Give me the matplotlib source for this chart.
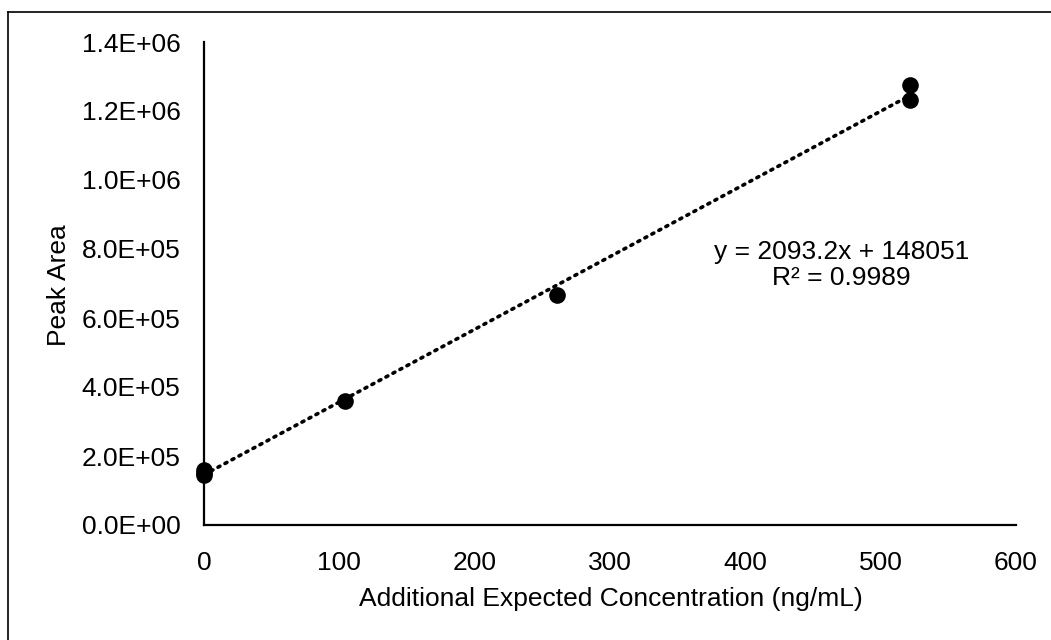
import numpy as np
import matplotlib
matplotlib.use("Agg")
import matplotlib.pyplot as plt
from matplotlib.lines import Line2D

plt.rcParams['font.family'] = ['Liberation Sans', 'DejaVu Sans']

# data
conc = [0, 0, 0, 104.4, 261, 522, 522]
area = [160000, 152000, 145000, 358000, 668000, 1232000, 1275000]

xticks = [0, 100, 200, 300, 400, 500, 600]
yticks = [0, 2e5, 4e5, 6e5, 8e5, 1.0e6, 1.2e6, 1.4e6]
eq_text = "y = 2093.2x + 148051\nR² = 0.9989"

fig = plt.figure(figsize=(10.51, 6.4), dpi=100)
ax = fig.add_axes([204/1051, 115/640, 812/1051, 483/640])

ax.scatter(conc, area, s=120, color='black', zorder=3, clip_on=False)

# trend line
k, b = np.polyfit(conc, area, 1)
xl = np.array([0, max(conc)])
ax.plot(xl, k*xl + b, linestyle=(0, (0.6, 1.6)), color='black', lw=2.6,
        dash_capstyle='round', zorder=2)

ax.text(471, 7.54e5, eq_text, ha='center', va='center', fontsize=19,
        linespacing=1.1)

ax.set_xlim(0, 600)
ax.set_ylim(0, 1.4e6)
ax.set_xticks(xticks)
ax.set_yticks(yticks)
ax.set_yticklabels(['{:.1E}'.format(v) for v in yticks])
ax.tick_params(axis='y', length=0, labelsize=19, pad=17)
ax.tick_params(axis='x', length=0, labelsize=19, pad=19)
ax.set_xlabel('Additional Expected Concentration (ng/mL)', fontsize=19)
ax.set_ylabel('Peak Area', fontsize=19)
ax.xaxis.set_label_coords(0.501, -0.153)
ax.yaxis.set_label_coords(-0.179, 0.497)
ax.xaxis.label.set_va('center')
ax.yaxis.label.set_va('center')

for s in ['top', 'right']:
    ax.spines[s].set_visible(False)
for s in ['left', 'bottom']:
    ax.spines[s].set_linewidth(1.6)

# outer chart border (left and top visible)
fig.add_artist(Line2D([8/1051, 8/1051], [0, 1 - 12/640], transform=fig.transFigure,
                      color='black', lw=1.2))
fig.add_artist(Line2D([8/1051, 1], [1 - 12/640, 1 - 12/640], transform=fig.transFigure,
                      color='black', lw=1.2))

fig.savefig('out.png', dpi=100)
